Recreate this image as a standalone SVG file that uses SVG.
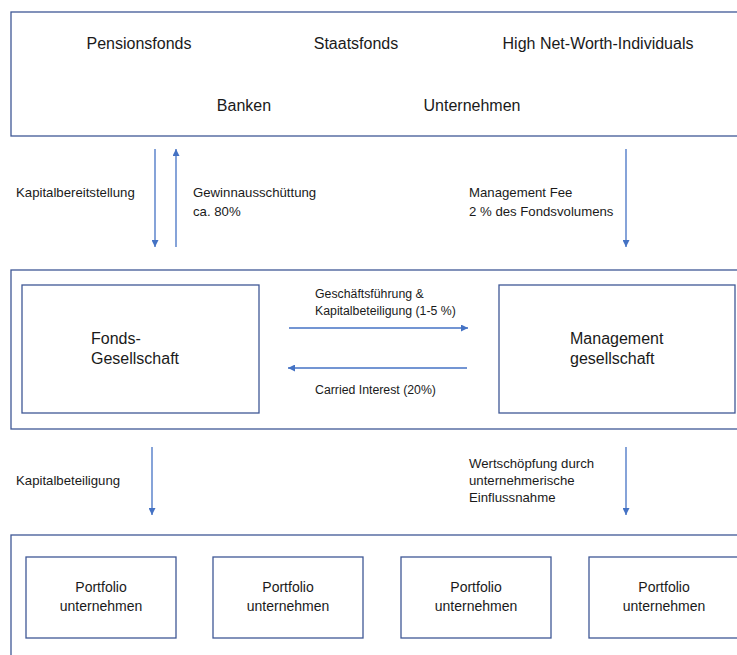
<svg xmlns="http://www.w3.org/2000/svg" width="737" height="655" viewBox="0 0 737 655">
<defs>
<style>
.box{fill:#fff;stroke:#3f5896;stroke-width:1.3}
.t{font-family:"Liberation Sans",Arial,sans-serif;fill:#1a1a1a}
.big{font-size:16px}
.mid{font-size:14px}
.sm{font-size:13.2px}
.xs{font-size:12.3px}
.c{text-anchor:middle}
.arr{stroke:#4472c4;stroke-width:1.3;fill:none;marker-end:url(#ah)}
</style>
<marker id="ah" viewBox="0 0 10 10" refX="10" refY="5" markerWidth="7" markerHeight="7" markerUnits="userSpaceOnUse" orient="auto">
<path d="M0,0 L10,5 L0,10 z" fill="#4472c4"/>
</marker>
</defs>
<rect width="737" height="655" fill="#fff"/>

<g id="investoren">
<rect class="box" x="11" y="12" width="740" height="124"/>
<text class="t big c" x="139" y="49">Pensionsfonds</text>
<text class="t big c" x="356" y="49">Staatsfonds</text>
<text class="t big c" x="598" y="49">High Net-Worth-Individuals</text>
<text class="t big c" x="244" y="111">Banken</text>
<text class="t big c" x="472" y="111">Unternehmen</text>
</g>

<g id="mitte">
<rect class="box" x="11" y="270" width="740" height="159"/>
</g>
<g id="fondsgesellschaft">
<rect class="box" x="22" y="285" width="237" height="128"/>
<text class="t big" x="91" y="344">Fonds-</text>
<text class="t big" x="91" y="364">Gesellschaft</text>
</g>
<g id="managementgesellschaft">
<rect class="box" x="499" y="285" width="236" height="128"/>
<text class="t big" x="570" y="344">Management</text>
<text class="t big" x="570" y="364">gesellschaft</text>
</g>

<g id="portfolio">
<rect class="box" x="11" y="535" width="740" height="130"/>
</g>
<g id="portfolio1">
<rect class="box" x="26" y="557" width="150" height="81"/>
<text class="t mid c" x="101" y="592">Portfolio</text>
<text class="t mid c" x="101" y="611">unternehmen</text>
</g>
<g id="portfolio2">
<rect class="box" x="213" y="557" width="150" height="81"/>
<text class="t mid c" x="288" y="592">Portfolio</text>
<text class="t mid c" x="288" y="611">unternehmen</text>
</g>
<g id="portfolio3">
<rect class="box" x="401" y="557" width="150" height="81"/>
<text class="t mid c" x="476" y="592">Portfolio</text>
<text class="t mid c" x="476" y="611">unternehmen</text>
</g>
<g id="portfolio4">
<rect class="box" x="589" y="557" width="150" height="81"/>
<text class="t mid c" x="664" y="592">Portfolio</text>
<text class="t mid c" x="664" y="611">unternehmen</text>
</g>

<g id="connectors">
<line class="arr" x1="155" y1="149" x2="155" y2="247"/>
<line class="arr" x1="176" y1="247" x2="176" y2="149"/>
<line class="arr" x1="626" y1="149" x2="626" y2="247"/>
<line class="arr" x1="289" y1="328" x2="468" y2="328"/>
<line class="arr" x1="467" y1="368" x2="288" y2="368"/>
<line class="arr" x1="152" y1="447" x2="152" y2="515"/>
<line class="arr" x1="626" y1="447" x2="626" y2="515"/>
<text class="t sm" x="16" y="197">Kapitalbereitstellung</text>
<text class="t sm" x="193" y="197">Gewinnausschüttung</text>
<text class="t sm" x="193" y="216">ca. 80%</text>
<text class="t sm" x="469" y="197">Management Fee</text>
<text class="t sm" x="469" y="216">2 % des Fondsvolumens</text>
<text class="t xs" x="315" y="298">Geschäftsführung &amp;</text>
<text class="t xs" x="315" y="315">Kapitalbeteiligung (1-5 %)</text>
<text class="t xs" x="315" y="394">Carried Interest (20%)</text>
<text class="t sm" x="16" y="485">Kapitalbeteiligung</text>
<text class="t sm" x="469" y="468">Wertschöpfung durch</text>
<text class="t sm" x="469" y="485">unternehmerische</text>
<text class="t sm" x="469" y="502">Einflussnahme</text>
</g>
</svg>
